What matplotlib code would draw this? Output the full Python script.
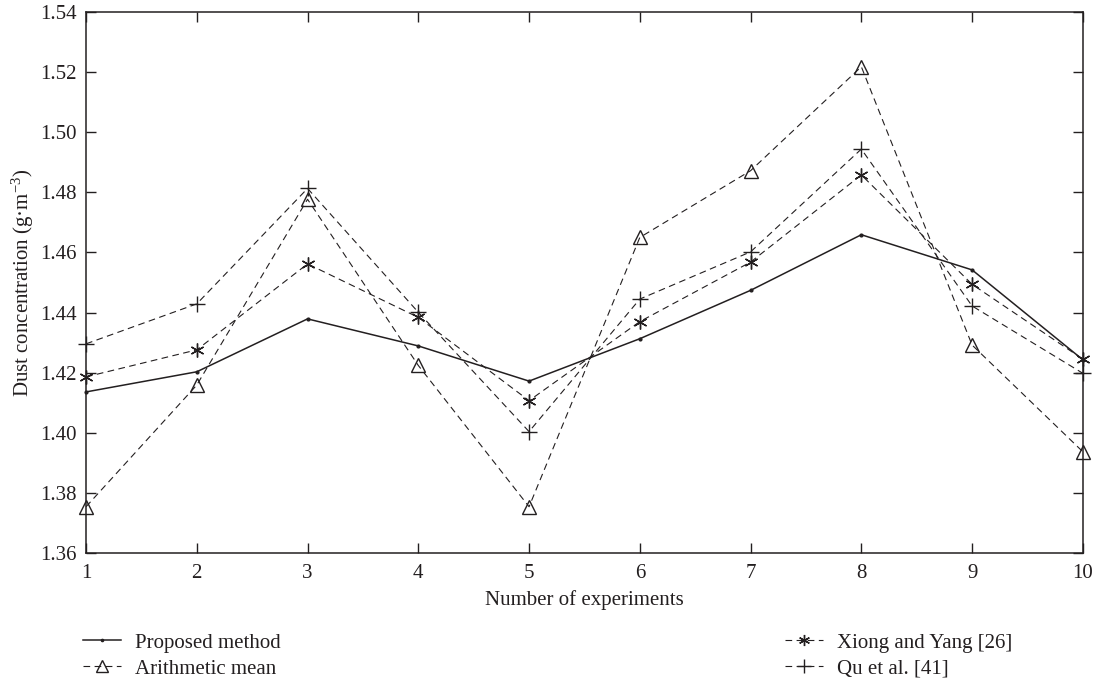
import numpy as np
import matplotlib
matplotlib.use("Agg")
import matplotlib.pyplot as plt

plt.rcParams['font.family'] = ['Liberation Serif', 'DejaVu Serif']
plt.rcParams['mathtext.fontset'] = 'custom'
plt.rcParams['mathtext.rm'] = 'Liberation Serif'
plt.rcParams['mathtext.it'] = 'Liberation Serif:italic'

ink = "#231f20"

experiments = np.arange(1, 11)
proposed = [1.4136, 1.4203, 1.4379, 1.4289, 1.4172, 1.4313, 1.4474, 1.4659, 1.4542, 1.4243]
arith_mean = [1.3754, 1.4159, 1.4777, 1.4224, 1.3754, 1.4650, 1.4872, 1.5218, 1.4292, 1.3937]
xiong_yang = [1.4186, 1.4276, 1.4562, 1.4384, 1.4107, 1.4370, 1.4568, 1.4858, 1.4494, 1.4245]
qu_etal = [1.4296, 1.4429, 1.4813, 1.4401, 1.4004, 1.4445, 1.4602, 1.4944, 1.4422, 1.4198]

yticks = [1.36, 1.38, 1.40, 1.42, 1.44, 1.46, 1.48, 1.50, 1.52, 1.54]

fig = plt.figure(figsize=(10.96, 6.83), dpi=100)
ax = fig.add_axes([0.0785, 0.1903, 0.9095, 0.7921])

dash = (0, (6, 4))
h1, = ax.plot(experiments, proposed, color=ink, lw=1.1, marker='.', ms=4,
              label="Proposed method", clip_on=False)
h2, = ax.plot(experiments, arith_mean, color=ink, lw=0.8, ls=dash, marker='^', ms=10,
              mfc='none', mec=ink, mew=1.0, label="Arithmetic mean", clip_on=False)
h3, = ax.plot(experiments, xiong_yang, color=ink, lw=0.8, ls=dash, marker=(6, 2, 0), ms=10,
              mec=ink, mew=1.0, label="Xiong and Yang [26]", clip_on=False)
h4, = ax.plot(experiments, qu_etal, color=ink, lw=0.8, ls=dash, marker='+', ms=12,
              mec=ink, mew=1.0, label="Qu et al. [41]", clip_on=False)

ax.set_xlim(1, 10)
ax.set_ylim(1.36, 1.54)
ax.set_xticks(experiments)
ax.set_yticks(yticks)
ax.set_yticklabels([f"{v:.2f}" for v in yticks])
ax.tick_params(direction='in', length=7, width=1.0, top=True, right=True,
               labelsize=15, colors=ink)
ax.tick_params(axis='x', pad=8)
ax.tick_params(axis='y', pad=7)
for s in ax.spines.values():
    s.set_linewidth(1.1)
    s.set_color(ink)

ax.set_xlabel("Number of experiments", fontsize=15, color=ink, labelpad=5)
ax.set_ylabel("Dust concentration (g·m$^{-3}$)", fontsize=15, color=ink, labelpad=3)

fig.legend(handles=[h1, h2, h3, h4], ncol=2, loc='upper left',
           bbox_to_anchor=(0.076, 0.073), frameon=False, fontsize=15,
           handlelength=1.8, handletextpad=0.7, columnspacing=24.2,
           labelspacing=0.3, numpoints=1, markerscale=0.8, labelcolor=ink,
           borderaxespad=0, borderpad=0)

fig.savefig("out.png", dpi=100)
